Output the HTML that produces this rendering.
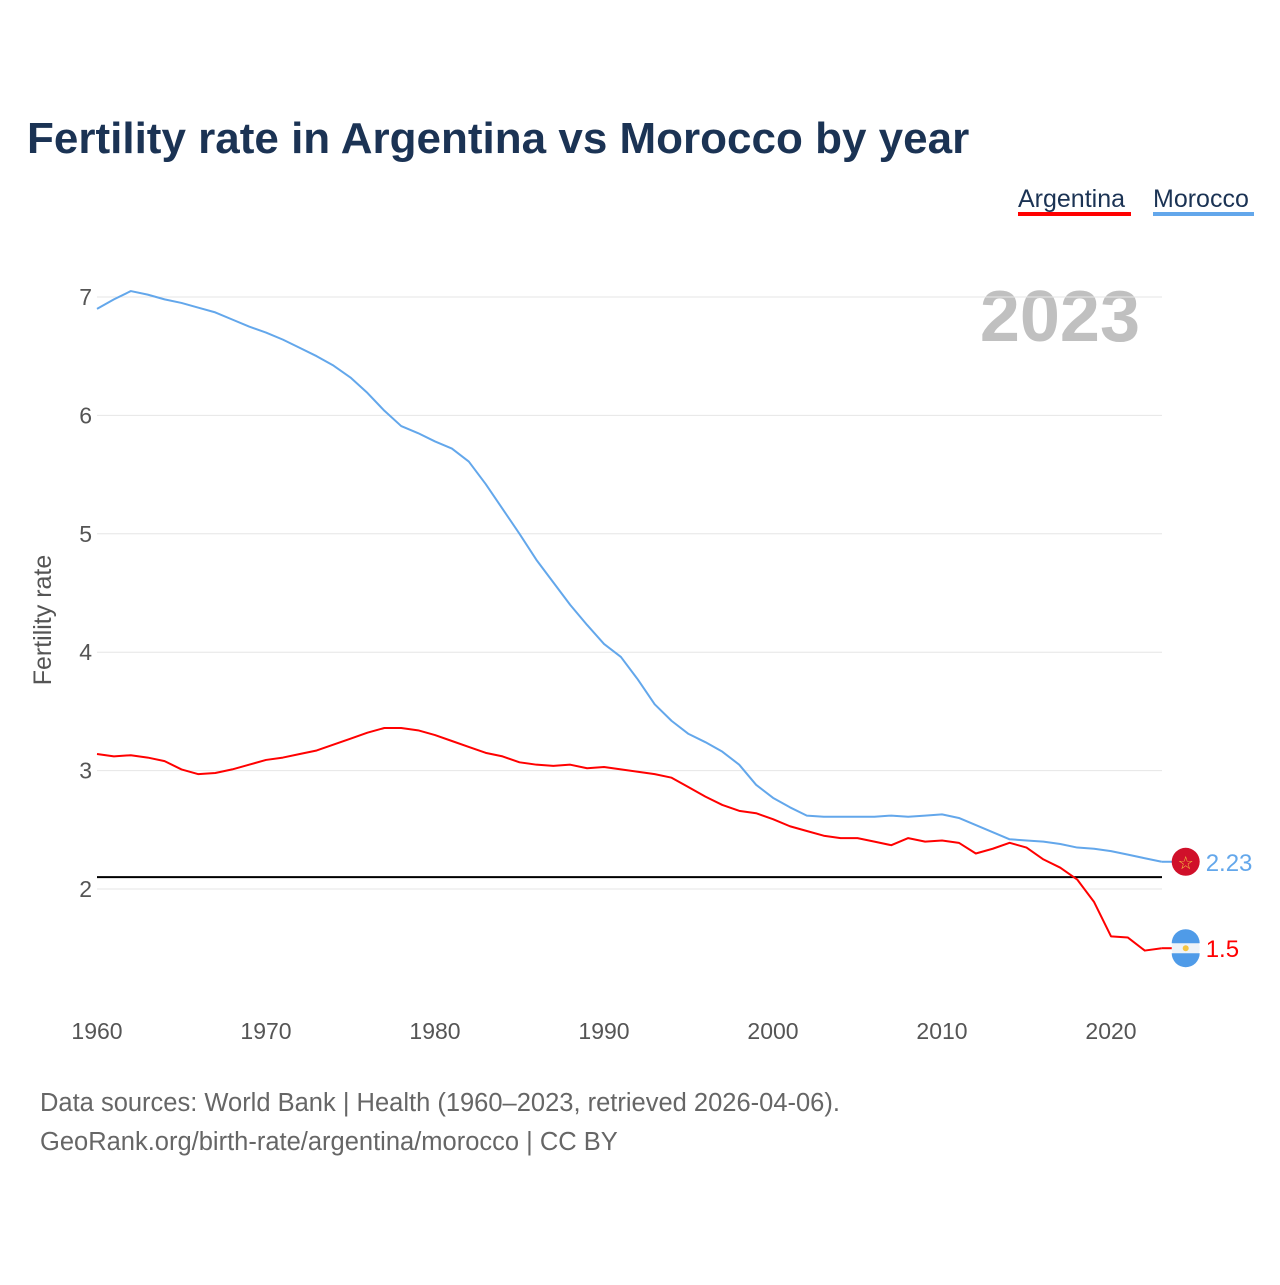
<!DOCTYPE html>
<html><head><meta charset="utf-8"><style>
body{margin:0;background:#fff;width:1280px;height:1280px;overflow:hidden;font-family:"Liberation Sans",sans-serif}
</style></head><body>
<svg width="1280" height="1280" xmlns="http://www.w3.org/2000/svg">
<text x="27" y="153" font-size="44" font-weight="bold" fill="#1b3354">Fertility rate in Argentina vs Morocco by year</text>
<g>
<text x="1018" y="207" font-size="25" fill="#1b3354">Argentina</text>
<rect x="1018" y="212" width="113" height="4" fill="#ff0000"/>
<text x="1153" y="207" font-size="25" fill="#1b3354">Morocco</text>
<rect x="1153" y="212" width="101" height="4" fill="#63a7eb"/>
</g>
<text x="1140" y="341" font-size="72" font-weight="bold" fill="#c0c0c0" text-anchor="end">2023</text>
<text transform="translate(51,620) rotate(-90)" font-size="25" fill="#555" text-anchor="middle">Fertility rate</text>
<g id="grid"></g><g id="xt"></g><g id="lines"></g>
<text x="40" y="1111" font-size="25.5" fill="#666">Data sources: World Bank | Health (1960–2023, retrieved 2026-04-06).</text>
<text x="40" y="1150" font-size="25.5" fill="#666">GeoRank.org/birth-rate/argentina/morocco | CC BY</text>
</svg>
<script>
const years=[];for(let y=1960;y<=2023;y++)years.push(y);
const yTicks=[2,3,4,5,6,7];
const xTicks=[1960,1970,1980,1990,2000,2010,2020];
const replacementRate=2.1;
const morocco=[6.90,6.98,7.05,7.02,6.98,6.95,6.91,6.87,6.81,6.75,6.70,6.64,6.57,6.50,6.42,6.32,6.19,6.04,5.91,5.85,5.78,5.72,5.61,5.42,5.21,5.00,4.78,4.59,4.40,4.23,4.07,3.96,3.77,3.56,3.42,3.31,3.24,3.16,3.05,2.88,2.77,2.69,2.62,2.61,2.61,2.61,2.61,2.62,2.61,2.62,2.63,2.60,2.54,2.48,2.42,2.41,2.40,2.38,2.35,2.34,2.32,2.29,2.26,2.23];
const argentina=[3.14,3.12,3.13,3.11,3.08,3.01,2.97,2.98,3.01,3.05,3.09,3.11,3.14,3.17,3.22,3.27,3.32,3.36,3.36,3.34,3.30,3.25,3.20,3.15,3.12,3.07,3.05,3.04,3.05,3.02,3.03,3.01,2.99,2.97,2.94,2.86,2.78,2.71,2.66,2.64,2.59,2.53,2.49,2.45,2.43,2.43,2.40,2.37,2.43,2.40,2.41,2.39,2.30,2.34,2.39,2.35,2.25,2.18,2.08,1.89,1.60,1.59,1.48,1.50];
const NS='http://www.w3.org/2000/svg';
const X=y=>97+(y-1960)*(1111-97)/60;
const Y=v=>297+(7-v)*118.4;
function mk(t,a,p){const e=document.createElementNS(NS,t);for(const k in a)e.setAttribute(k,a[k]);p.appendChild(e);return e;}
const g=document.getElementById('grid');
yTicks.forEach(v=>{
 const l=mk('line',{x1:97,x2:1162,y1:Y(v),y2:Y(v),stroke:'#e6e6e6','stroke-width':1},g);
 
 
 const t=mk('text',{x:92,y:Y(v)+8,'font-size':23,fill:'#555','text-anchor':'end'},g);t.textContent=v;
 
 
});
const xt=document.getElementById('xt');
xTicks.forEach(v=>{
 const t=mk('text',{x:X(v),y:1039,'font-size':23,fill:'#555','text-anchor':'middle'},xt);t.textContent=v;
 
 
});
const L=document.getElementById('lines');
const rl=mk('line',{x1:97,x2:1162,y1:Y(replacementRate),y2:Y(replacementRate),stroke:'#000','stroke-width':2},L);


function series(arr,col,name){
 const p=mk('polyline',{points:arr.map((v,i)=>X(years[i])+','+Y(v)).join(' '),fill:'none',stroke:col,'stroke-width':2,'stroke-linejoin':'round'},L);
 
 
 const last=arr[arr.length-1],ly=Y(last),lx=X(years[years.length-1]);
 mk('line',{x1:lx,x2:lx+12,y1:ly,y2:ly,stroke:col,'stroke-width':2},L);
 const c=mk('circle',{cx:lx+24,cy:ly,r:14,fill:name==='morocco'?'#d0102a':'#eef3f8'},L);
 
 
 if(name==='argentina'){
  mk('path',{d:`M${lx+10} ${ly-5} A14 14 0 0 1 ${lx+38} ${ly-5} Z`,fill:'#4f9be8'},L);
  mk('path',{d:`M${lx+10} ${ly+5} A14 14 0 0 0 ${lx+38} ${ly+5} Z`,fill:'#4f9be8'},L);
  mk('circle',{cx:lx+24,cy:ly,r:3,fill:'#f5c542'},L);
 }else{
  const s=mk('text',{x:lx+24,y:ly+7,'font-size':18,fill:'#f5c542','text-anchor':'middle'},L);s.textContent='☆';
 }
 const t=mk('text',{x:lx+44,y:ly+9,'font-size':24,fill:col},L);t.textContent=last;
 
 
}
series(morocco,'#63a7eb','morocco');
series(argentina,'#ff0000','argentina');
</script>
</body></html>
